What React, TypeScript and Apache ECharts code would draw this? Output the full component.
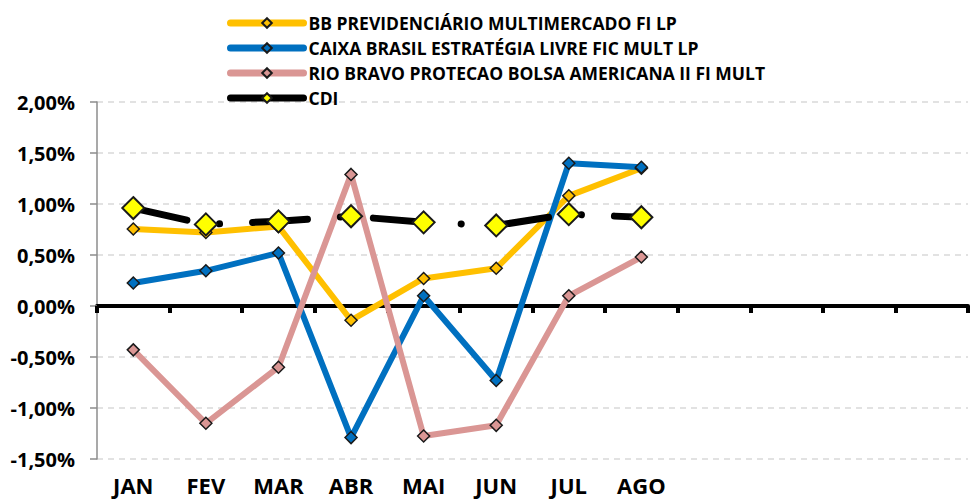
import React, { useEffect, useRef } from "react";
import * as echarts from "echarts";

const months = ["JAN", "FEV", "MAR", "ABR", "MAI", "JUN", "JUL", "AGO", "", "", "", ""];
const seriesNames = [
  "BB PREVIDENCIÁRIO MULTIMERCADO FI LP",
  "CAIXA BRASIL ESTRATÉGIA LIVRE FIC MULT LP",
  "RIO BRAVO PROTECAO BOLSA AMERICANA II FI MULT",
  "CDI",
];
const bbValues = [0.755, 0.72, 0.78, -0.14, 0.27, 0.37, 1.08, 1.35];
const caixaValues = [0.225, 0.345, 0.52, -1.29, 0.1, -0.73, 1.4, 1.36];
const rioValues = [-0.43, -1.15, -0.6, 1.29, -1.275, -1.17, 0.1, 0.48];
const cdiValues = [0.96, 0.8, 0.83, 0.88, 0.82, 0.79, 0.9, 0.87];
const yMin = -1.5;
const yMax = 2.0;
const yStep = 0.5;

const FONT = "'Open Sans', Lato, sans-serif";

export default function App() {
  const ref = useRef<HTMLDivElement>(null);
  useEffect(() => {
    document.body.style.margin = "0";
    if (!ref.current) return;
    const chart = echarts.init(ref.current, null, { renderer: "svg" });
    const colors = ["#FFC000", "#0070C0", "#DA9694", "#000000"];
    const mk = (name: string, data: number[], color: string) => ({
      name,
      type: "line",
      data,
      xAxisIndex: 0,
      symbol: "diamond",
      symbolSize: 12,
      lineStyle: { color, width: 6 },
      itemStyle: { color, borderColor: "#1a1a1a", borderWidth: 1.5 },
    });
    const legendLine = { width: 7, cap: "round", type: "solid" };
    chart.setOption({
      animation: false,
      textStyle: { fontFamily: FONT },
      legend: {
        orient: "vertical",
        left: 222,
        top: 9,
        itemWidth: 73,
        itemHeight: 12,
        itemGap: 7,
        textStyle: { fontFamily: FONT, fontWeight: "bold", fontSize: 17.5, color: "#000", lineHeight: 16 },
        data: seriesNames.map((n) => ({ name: n, lineStyle: legendLine })),
      },
      grid: { left: 97, right: 2, top: 102, bottom: 42, containLabel: false },
      xAxis: [
        {
          type: "category",
          data: months,
          boundaryGap: true,
          position: "bottom",
          axisLine: { show: false, onZero: false },
          axisTick: { show: false },
          axisLabel: {
            fontFamily: FONT,
            fontWeight: "bold",
            fontSize: 22,
            color: "#000",
            margin: 15,
            interval: 0,
          },
          splitLine: { show: false },
        },
        {
          type: "category",
          data: months,
          boundaryGap: true,
          position: "bottom",
          axisLine: { show: true, onZero: true, lineStyle: { color: "#000", width: 4 } },
          axisTick: { show: true, length: 7, lineStyle: { color: "#000", width: 4 } },
          axisLabel: { show: false },
          splitLine: { show: false },
        },
      ],
      yAxis: {
        type: "value",
        min: yMin,
        max: yMax,
        interval: yStep,
        axisLine: { show: true, lineStyle: { color: "#8c8c8c", width: 1.5 } },
        axisTick: { show: true, length: 7, lineStyle: { color: "#8c8c8c", width: 1.5 } },
        axisLabel: {
          fontFamily: FONT,
          fontWeight: "bold",
          fontSize: 20,
          color: "#000",
          margin: 22,
          formatter: (v: number) => v.toFixed(2).replace(".", ",") + "%",
        },
        splitLine: { show: true, lineStyle: { color: "#d9d9d9", width: 1.5, type: [6, 5] } },
      },
      series: [
        mk(seriesNames[0], bbValues, colors[0]),
        mk(seriesNames[1], caixaValues, colors[1]),
        mk(seriesNames[2], rioValues, colors[2]),
        {
          name: seriesNames[3],
          type: "line",
          data: cdiValues,
          xAxisIndex: 0,
          symbol: "diamond",
          symbolSize: 22,
          lineStyle: { color: "#000", width: 7, type: [55, 33, 0.1, 33], cap: "round" },
          itemStyle: { color: "#FFFF00", borderColor: "#1a1a1a", borderWidth: 2 },
          z: 3,
        },
      ],
    });
    return () => chart.dispose();
  }, []);
  return <div ref={ref} style={{ width: 970, height: 501 }} />;
}
